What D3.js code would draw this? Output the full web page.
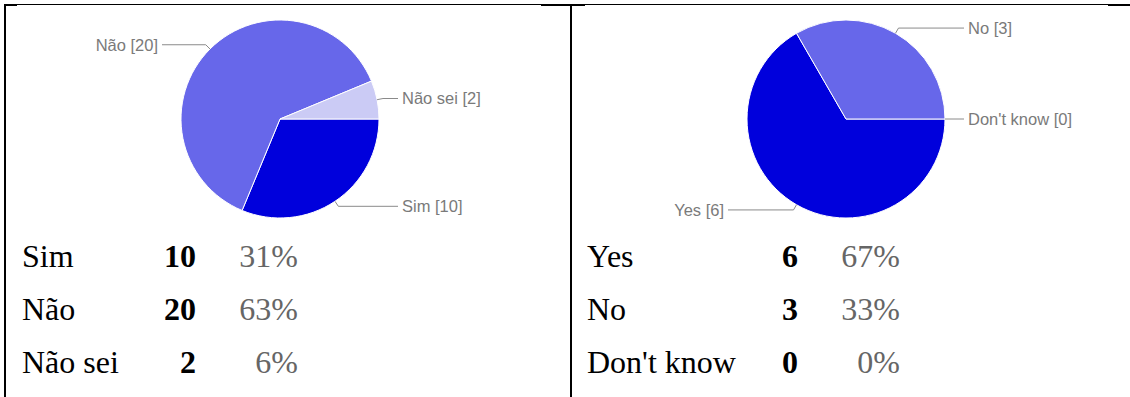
<!DOCTYPE html>
<html>
<head>
<meta charset="utf-8">
<script src="https://cdn.jsdelivr.net/npm/d3@7"></script>
<style>
  html, body { margin: 0; padding: 0; background: #fff; }
  svg { display: block; }
</style>
</head>
<body>
<svg id="chart" width="1130" height="397"></svg>
<script>
// Survey answers, Portuguese question
const categoriesPt = ["Sim", "Não", "Não sei"];
const valuesPt = [10, 20, 2];

// Survey answers, English question
const categoriesEn = ["Yes", "No", "Don't know"];
const valuesEn = [6, 3, 0];

// Slice colours by answer position (yes / no / don't know)
const sliceColors = ["#0000dc", "#6767ea", "#cbcbf5"];

const svg = d3.select("#chart");

// Table frame
const frame = svg.append("g").attr("fill", "#000");
frame.append("rect").attr("x", 4).attr("y", 4).attr("width", 1126).attr("height", 1);
frame.append("rect").attr("x", 4).attr("y", 4).attr("width", 13).attr("height", 2);
frame.append("rect").attr("x", 541).attr("y", 4).attr("width", 44).attr("height", 2);
frame.append("rect").attr("x", 1108).attr("y", 4).attr("width", 22).attr("height", 2);
frame.append("rect").attr("x", 4).attr("y", 4).attr("width", 2).attr("height", 393);
frame.append("rect").attr("x", 570).attr("y", 4).attr("width", 2).attr("height", 393);

function drawPanel(cfg) {
  const data = cfg.categories.map((c, i) => ({ name: c, value: cfg.values[i], color: sliceColors[i] }));
  const total = d3.sum(data, d => d.value);
  const r = 99;

  const pie = d3.pie()
    .sort(null)
    .value(d => d.value)
    .startAngle(Math.PI / 2)
    .endAngle(Math.PI / 2 + 2 * Math.PI);
  const arcs = pie(data);
  const arc = d3.arc().innerRadius(0).outerRadius(r);

  const g = svg.append("g").attr("transform", `translate(${cfg.cx},${cfg.cy})`);

  g.selectAll("path.slice")
    .data(arcs.filter(a => a.data.value > 0))
    .join("path")
    .attr("class", "slice")
    .attr("d", arc)
    .attr("fill", a => a.data.color)
    .attr("stroke", "#fff")
    .attr("stroke-width", 1);

  // Leader lines and slice labels
  const labels = g.selectAll("g.label").data(arcs).join("g").attr("class", "label");
  labels.each(function (a) {
    const mid = (a.startAngle + a.endAngle) / 2;
    const sx = Math.sin(mid), sy = -Math.cos(mid);
    const right = sx >= -1e-9;
    const x0 = r * sx, y0 = r * sy;
    const x1 = (r + 6) * sx, y1 = (r + 6) * sy;
    const xEnd = right ? r + 19 : -(r + 19);
    const sel = d3.select(this);
    sel.append("path")
      .attr("d", `M${x0},${y0}L${x1},${y1}L${xEnd},${y1}`)
      .attr("fill", "none")
      .attr("stroke", "#8a8a8a")
      .attr("stroke-width", 1);
    sel.append("text")
      .attr("x", right ? r + 23 : -(r + 23))
      .attr("y", y1)
      .attr("dy", "0.36em")
      .attr("text-anchor", right ? "start" : "end")
      .attr("font-family", "'Liberation Sans', Arial, sans-serif")
      .attr("font-size", 16.5)
      .attr("fill", "#7a7a7a")
      .text(`${a.data.name} [${a.data.value}]`);
  });

  // Counts table below the pie
  const rows = svg.append("g").selectAll("g.row").data(data).join("g")
    .attr("class", "row")
    .attr("transform", (d, i) => `translate(0,${cfg.rowY[i]})`)
    .attr("font-family", "'Liberation Serif', 'Times New Roman', serif")
    .attr("font-size", 32);
  rows.append("text")
    .attr("x", cfg.nameX)
    .attr("fill", "#000")
    .text(d => d.name);
  rows.append("text")
    .attr("x", cfg.countX)
    .attr("text-anchor", "end")
    .attr("font-weight", "bold")
    .attr("fill", "#000")
    .text(d => d.value);
  rows.append("text")
    .attr("x", cfg.pctX)
    .attr("text-anchor", "end")
    .attr("fill", "#666")
    .text(d => Math.round(d.value / total * 100) + "%");
}

drawPanel({
  categories: categoriesPt, values: valuesPt,
  cx: 280, cy: 119,
  rowY: [267, 320, 373], nameX: 22, countX: 196, pctX: 298
});

drawPanel({
  categories: categoriesEn, values: valuesEn,
  cx: 846, cy: 119,
  rowY: [267, 320, 373], nameX: 587, countX: 798, pctX: 900
});
</script>
</body>
</html>
